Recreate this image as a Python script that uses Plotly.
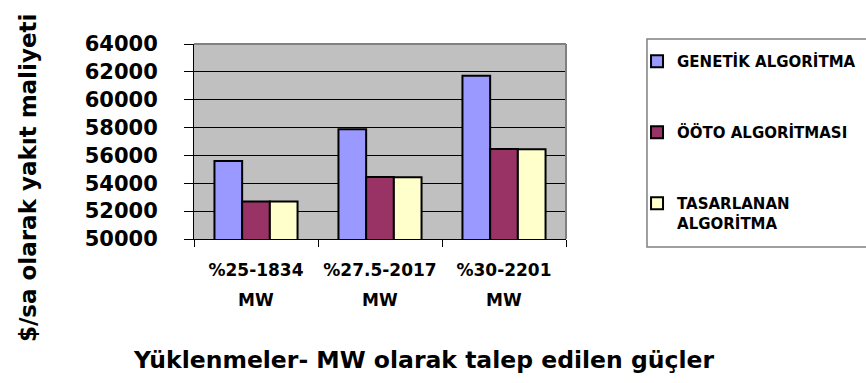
import plotly.graph_objects as go

# Load levels (first line of each category label) and the shared second line
categories = ["%25-1834", "%27.5-2017", "%30-2201"]
category_unit = "MW"

# Fuel cost ($/h) per algorithm
series_names = ["GENETİK ALGORİTMA", "ÖÖTO ALGORİTMASI", "TASARLANAN<br>ALGORİTMA"]
genetik = [55600, 57880, 61720]
ooto = [52700, 54450, 56460]
tasarlanan = [52690, 54440, 56440]
series_values = [genetik, ooto, tasarlanan]
series_colors = ["#9999FF", "#993366", "#FFFFCC"]

y_ticks = [50000, 52000, 54000, 56000, 58000, 60000, 62000, 64000]

FONT = "DejaVu Sans"

# one legend per series so each entry can sit at its own height (container coords)
legend_ids = ["legend", "legend2", "legend3"]
legend_tops = [0.8825, 0.697, 0.5117]

fig = go.Figure()
for name, vals, col, lid in zip(series_names, series_values, series_colors, legend_ids):
    fig.add_trace(go.Bar(
        x=categories, y=vals, name=name, legend=lid, showlegend=True,
        marker=dict(color=col, line=dict(color="black", width=2)),
    ))

# Second line of the category labels
for c in categories:
    fig.add_annotation(x=c, xref="x", y=-0.313, yref="paper", text=f"<b>{category_unit}</b>",
                       showarrow=False, xanchor="center", yanchor="middle",
                       font=dict(family=FONT, size=17, color="black"))

# Axis titles
fig.add_annotation(x=0.618, y=-0.6205, xref="paper", yref="paper",
                   text="<b>Yüklenmeler- MW olarak talep edilen güçler</b>",
                   showarrow=False, xanchor="center", yanchor="middle",
                   font=dict(family=FONT, size=23.5, color="black"))
fig.add_annotation(x=-0.446, y=0.313, xref="paper", yref="paper",
                   text="<b>$/sa olarak yakıt maliyeti</b>", textangle=-90,
                   showarrow=False, xanchor="center", yanchor="middle",
                   font=dict(family=FONT, size=23, color="black"))

# Plot-area frame (top and right) and legend frame
fig.add_shape(type="line", xref="paper", yref="paper", x0=0, x1=1, y0=1, y1=1,
              line=dict(color="#808080", width=2))
fig.add_shape(type="line", xref="paper", yref="paper", x0=1, x1=1, y0=0, y1=1,
              line=dict(color="#808080", width=2))
fig.add_shape(type="rect", xref="paper", yref="paper", x0=1.2177, x1=2.0, y0=-0.041, y1=1.0256,
              line=dict(color="#808080", width=1.5), fillcolor="white", layer="below")

legend_common = dict(
    xref="container", yref="container",
    x=0.7356, xanchor="left", yanchor="top",
    bgcolor="rgba(0,0,0,0)", borderwidth=0, valign="top",
    font=dict(family=FONT, size=15, color="black", weight="bold"),
)

fig.update_layout(
    width=866, height=383, showlegend=True,
    margin=dict(l=194, r=300, t=44, b=144, autoexpand=False),
    paper_bgcolor="white", plot_bgcolor="#C0C0C0",
    barmode="group", bargap=0.33, bargroupgap=0,
    font=dict(family=FONT, color="black"),
    legend=dict(y=legend_tops[0], **legend_common),
    legend2=dict(y=legend_tops[1], **legend_common),
    legend3=dict(y=legend_tops[2], **legend_common),
    xaxis=dict(
        type="category", tickson="boundaries", ticks="outside", ticklen=7,
        tickcolor="black", tickwidth=1, showgrid=False, tickangle=0,
        showline=True, linecolor="black", linewidth=1,
        tickfont=dict(family=FONT, size=17, color="black", weight="bold"),
        ticklabelstandoff=16,
    ),
    yaxis=dict(
        range=[50000, 64000], tickvals=y_ticks, ticktext=[str(v) for v in y_ticks],
        ticks="outside", ticklen=9, tickcolor="black", tickwidth=1,
        showgrid=True, gridcolor="black", gridwidth=1, zeroline=False,
        showline=True, linecolor="black", linewidth=1,
        tickfont=dict(family=FONT, size=21, color="black", weight="bold"),
        ticklabelstandoff=22,
    ),
)

fig.write_html("out.html")
